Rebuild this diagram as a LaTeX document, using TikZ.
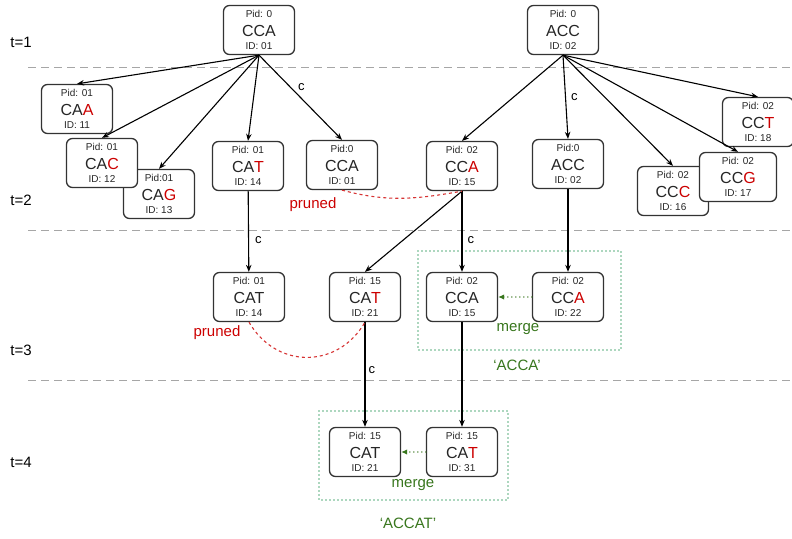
\documentclass[tikz,border=0pt]{standalone}
\usepackage{fontspec}
\setmainfont{Liberation Sans}
\usepackage{tikz}
\usetikzlibrary{arrows.meta,positioning}

\definecolor{mutred}{RGB}{204,0,0}
\definecolor{mergegreen}{RGB}{56,118,29}
\definecolor{boxgreen}{RGB}{90,175,125}
\newcommand{\mut}[1]{\textcolor{mutred}{#1}}
\newcommand{\kmer}[3]{#1\\[6.7pt]{\fontsize{16}{16}\selectfont #2}\\[1pt]ID: #3}

\begin{document}
\begin{tikzpicture}[x=1pt,y=1pt,>={Stealth[length=7pt,width=5.5pt]},
  kmer/.style={draw=black!80,line width=1.3pt,rounded corners=6pt,fill=white,text=black!85,
    minimum width=71pt,minimum height=49pt,inner sep=2pt,align=center,font=\fontsize{10}{12}\selectfont},
  sep/.style={gray!70,dash pattern=on 8pt off 5pt,line width=1pt},
  mergebox/.style={boxgreen,line width=1.6pt,dash pattern=on 0pt off 4pt,line cap=round},
  mergearrow/.style={mergegreen,line width=1.6pt,dash pattern=on 0pt off 4pt,line cap=round,-{Latex[length=6pt,width=5.5pt]}},
  prune/.style={mutred!80,dashed,line width=1.1pt},
  lbl/.style={font=\fontsize{15}{15}\selectfont},
  clbl/.style={font=\fontsize{13}{13}\selectfont,inner sep=0pt},
  every edge/.style={draw,line width=1.1pt}]
\useasboundingbox (0,0) rectangle (792,-538);

\node[lbl] (t1) at (21,-42) {t=1};
\node[lbl] (t2) at (21,-200) {t=2};
\node[lbl] (t3) at (21,-350) {t=3};
\node[lbl] (t4) at (21,-462) {t=4};
\draw[sep] (28,-67) -- (792,-67);
\draw[sep] (28,-230) -- (792,-230);
\draw[sep] (28,-380) -- (792,-380);

\draw[mergebox] (418,-251) rectangle (621,-350);
\draw[mergebox] (319,-411) rectangle (508,-500);

\node[kmer] (R1) at (259,-30) {\kmer{Pid: 0}{CCA}{01}};
\node[kmer] (R2) at (563,-30) {\kmer{Pid: 0}{ACC}{02}};

\node[kmer] (a1) at (77,-109) {\kmer{Pid: 01}{CA\mut{A}}{11}};
\node[kmer] (a3) at (159,-194) {\kmer{Pid:01}{CA\mut{G}}{13}};
\node[kmer] (a2) at (102,-163) {\kmer{Pid: 01}{CA\mut{C}}{12}};
\node[kmer] (a4) at (248,-166) {\kmer{Pid: 01}{CA\mut{T}}{14}};
\node[kmer] (a5) at (342,-165) {\kmer{Pid:0}{CCA}{01}};

\node[kmer] (b1) at (462,-166) {\kmer{Pid: 02}{CC\mut{A}}{15}};
\node[kmer] (b2) at (568,-164) {\kmer{Pid:0}{ACC}{02}};
\node[kmer] (b3) at (673,-191) {\kmer{Pid: 02}{CC\mut{C}}{16}};
\node[kmer,minimum width=77pt] (b4) at (738,-177) {\kmer{Pid: 02}{CC\mut{G}}{17}};
\node[kmer] (b5) at (758,-122) {\kmer{Pid: 02}{CC\mut{T}}{18}};

\node[kmer] (c1) at (249,-297) {\kmer{Pid: 01}{CAT}{14}};
\node[kmer] (c2) at (365,-297) {\kmer{Pid: 15}{CA\mut{T}}{21}};
\node[kmer] (c3) at (462,-297) {\kmer{Pid: 02}{CCA}{15}};
\node[kmer] (c4) at (568,-297) {\kmer{Pid: 02}{CC\mut{A}}{22}};

\node[kmer] (d1) at (365,-452) {\kmer{Pid: 15}{CAT}{21}};
\node[kmer] (d2) at (462,-452) {\kmer{Pid: 15}{CA\mut{T}}{31}};

\path[->] (R1.south) edge (a1.north) edge (a2.north) edge (a3.north) edge (a4.north)
  edge node[clbl,pos=.38,right=7pt] {c} (a5.north);
\path[->] (R2.south) edge (b1.north) edge node[clbl,pos=.5,right=5pt] {c} (b2.north)
  edge (b3.north) edge (b4.north) edge (b5.north);
\path[->] (a4) edge node[clbl,pos=.6,right=6pt] {c} (c1)
  (b1.south) edge (c2.north) edge node[clbl,pos=.6,right=5pt] {c} (c3.north)
  (b2) edge (c4);
\path[->] (c2) edge node[clbl,pos=.46,right=3pt] {c} (d1)
  (c3) edge (d2);

\path (c4) edge[mergearrow] (c3);
\path (d2) edge[mergearrow] (d1);

\draw[prune] (a5.south) to[out=-15,in=190] (b1.south);
\draw[prune] (c1.south) to[out=-60,in=-120,looseness=1.2] (c2.south);
\node[lbl,mutred] (p1) at (313,-205) {pruned};
\node[lbl,mutred] (p2) at (217,-333) {pruned};
\node[lbl,mergegreen] (m1) at (518,-329) {merge};
\node[lbl,mergegreen] (m2) at (413,-485) {merge};
\node[lbl,mergegreen] (q1) at (517,-365) {‘ACCA’};
\node[lbl,mergegreen] (q2) at (408,-523) {‘ACCAT’};
\end{tikzpicture}
\end{document}
